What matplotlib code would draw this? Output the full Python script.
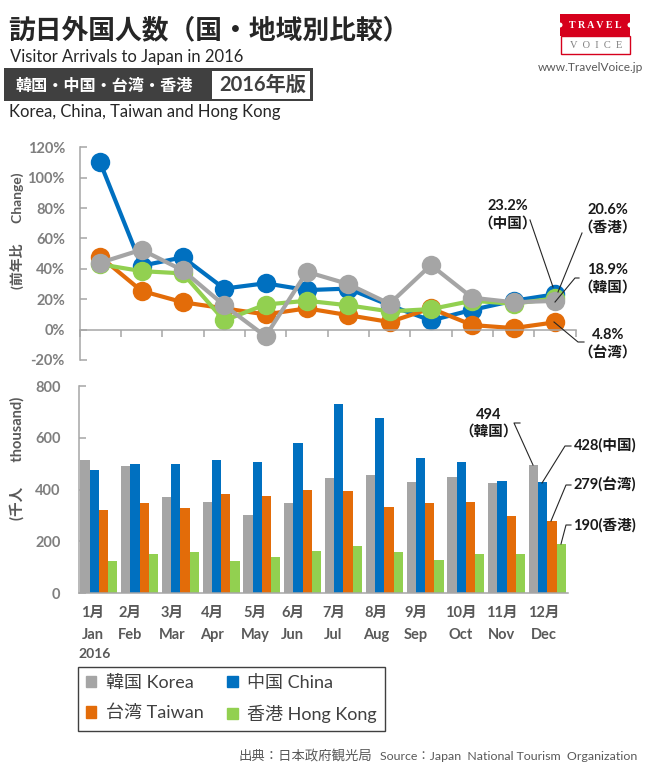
import numpy as np
import matplotlib
matplotlib.use("Agg")
import matplotlib.pyplot as plt
from matplotlib.patches import Rectangle, Patch, Circle

FONT = ['Lato', 'Noto Sans CJK JP', 'DejaVu Sans']
plt.rcParams['font.family'] = FONT

W, H = 656, 784

months_jp = ['1月','2月','3月','4月','5月','6月','7月','8月','9月','10月','11月','12月']
months_en = ['Jan','Feb','Mar','Apr','May','Jun','Jul','Aug','Sep','Oct','Nov','Dec']

# Year-on-year change (%)
change_korea  = [44, 52.6, 39, 16, -4.4, 38, 30, 17, 42.5, 21, 18, 18.9]
change_china  = [110, 42, 47.6, 27, 30.5, 26, 27, 16, 6, 13, 19, 23.2]
change_taiwan = [48, 25.5, 18, 14, 10, 14, 9.5, 5, 14, 3, 1, 4.8]
change_hk     = [43, 38.5, 37, 6, 16.5, 19, 16, 12, 13.5, 19, 17, 20.6]

# Visitors (thousand)
visitors_korea  = [514, 491, 372, 352, 302, 348, 445, 457, 430, 449, 426, 494]
visitors_china  = [476, 499, 499, 514, 507, 580, 731, 677, 522, 507, 434, 428]
visitors_taiwan = [322, 348, 329, 383, 376, 399, 395, 333, 348, 352, 298, 279]
visitors_hk     = [125, 152, 159, 125, 140, 163, 183, 159, 129, 152, 152, 190]

C_KOREA, C_CHINA, C_TAIWAN, C_HK = '#A5A5A5', '#0070C0', '#E36C09', '#92D050'
AXIS = '#A6A6A6'
TICK = '#7F7F7F'

fig = plt.figure(figsize=(W / 100, H / 100), dpi=100, facecolor='white')


def axes_px(x0, y0, x1, y1, **kw):
    return fig.add_axes([x0 / W, 1 - y1 / H, (x1 - x0) / W, (y1 - y0) / H], **kw)


# ---------- top line chart ----------
ax1 = axes_px(79.5, 147.3, 575.6, 360)
xs = np.arange(12)
for vals, col in [(change_china, C_CHINA), (change_taiwan, C_TAIWAN),
                  (change_hk, C_HK), (change_korea, C_KOREA)]:
    ax1.plot(xs, vals, color=col, lw=3, marker='o', ms=14, mew=0, clip_on=False)
ax1.set_xlim(-0.5, 11.5)
ax1.set_ylim(-20, 120)
ax1.set_yticks(np.arange(-20, 121, 20))
ax1.set_yticklabels([f'{v}%' for v in range(-20, 121, 20)])
ax1.set_xticks(np.arange(-0.5, 12, 1))
ax1.tick_params(axis='x', labelbottom=False, length=5, color=AXIS, width=1.1, direction='out')
ax1.tick_params(axis='y', length=5, color=AXIS, width=1.1, direction='in', pad=10.5,
                labelsize=10.5, labelcolor=TICK)
for lab in ax1.get_yticklabels():
    lab.set_fontweight('bold')
ax1.spines[['top', 'right']].set_visible(False)
ax1.spines['left'].set_color(AXIS)
ax1.spines['left'].set_linewidth(1.1)
ax1.spines['bottom'].set_position(('data', 0))
ax1.spines['bottom'].set_color(AXIS)
ax1.spines['bottom'].set_linewidth(1.1)
ax1.set_ylabel('(前年比　  Change)', fontsize=10, color='#595959', fontweight='bold')
ax1.yaxis.set_label_coords((24 - 79.5) / 496, 0.61)

# ---------- bottom bar chart ----------
ax2 = axes_px(78.5, 386, 567.7, 593.3)
bw = 0.227
series = [('韓国 Korea', visitors_korea, C_KOREA), ('中国 China', visitors_china, C_CHINA),
          ('台湾 Taiwan', visitors_taiwan, C_TAIWAN), ('香港 Hong Kong', visitors_hk, C_HK)]
for k, (_, vals, col) in enumerate(series):
    ax2.bar(xs + (k - 1.5) * bw, vals, width=bw, color=col, linewidth=0)
ax2.set_xlim(-0.5, 11.5)
ax2.set_ylim(0, 800)
ax2.set_yticks(np.arange(0, 801, 200))
label_shift = np.array([-6, -9.7, -8.5, -9, -7, -10, -10, -8.5, -9.3, -5, -5, -3.7]) / 40.8
ax2.set_xticks(xs + label_shift)
ax2.set_xticklabels([f'{j}\n{e}' for j, e in zip(months_jp, months_en)],
                    fontsize=10.5, fontweight='bold', color='#595959', linespacing=1.75)
ax2.tick_params(axis='x', length=0, pad=9)
ax2.tick_params(axis='y', length=5, color=AXIS, width=1.1, direction='in', pad=13,
                labelsize=10.5, labelcolor=TICK)
for lab in ax2.get_yticklabels():
    lab.set_fontweight('bold')
ax2.spines[['top', 'right']].set_visible(False)
for s in ['left', 'bottom']:
    ax2.spines[s].set_color(AXIS)
    ax2.spines[s].set_linewidth(1.1)
ax2.set_ylabel('(千人　   thousand)', fontsize=10.5, color='#595959', fontweight='bold')
ax2.yaxis.set_label_coords((25 - 78.5) / 489.2, (593.3 - 458) / 207.3)

# ---------- legend ----------
handles = [Patch(color=c, label=l) for l, _, c in series]
handles = [handles[0], handles[2], handles[1], handles[3]]
leg = fig.legend(handles=handles, ncol=2, loc='lower left',
                 bbox_to_anchor=(78 / W, 1 - 731 / H, 307 / W, 64 / H), mode='expand',
                 borderaxespad=0, fontsize=13, frameon=True, fancybox=False,
                 edgecolor='#404040', framealpha=1, handlelength=0.58, handleheight=0.58,
                 handletextpad=0.55, labelspacing=0.75, borderpad=0.44, columnspacing=0.5)
leg.get_frame().set_linewidth(1.0)
for t in leg.get_texts():
    t.set_color('#404040')

# ---------- overlay in pixel coordinates ----------
ov = fig.add_axes([0, 0, 1, 1], facecolor='none')
ov.set_xlim(0, W)
ov.set_ylim(H, 0)
ov.axis('off')


def tx(x, y, s, size, color='#262626', weight='normal', ha='left', **kw):
    ov.text(x, y, s, fontsize=size, color=color, fontweight=weight, ha=ha, va='center', **kw)


tx(8, 29, '訪日外国人数（国・地域別比較）', 19.3, weight='bold')
tx(10, 57, 'Visitor Arrivals to Japan in 2016', 12)
ov.add_patch(Rectangle((4, 68), 309, 33, fc='#404040', ec='none'))
ov.add_patch(Rectangle((212, 71), 98, 28, fc='white', ec='none'))
tx(15, 86, '韓国・中国・台湾・香港', 11.6, color='white', weight='bold')
tx(263, 85, '2016年版', 14.5, color='#404040', weight='bold', ha='center')
tx(9, 112, 'Korea, China, Taiwan and Hong Kong', 11.9)

# logo
ov.add_patch(Rectangle((560, 14), 70, 22, fc='#D6001C', ec='none'))
ov.add_patch(Circle((560, 25), 2.5, fc='white', ec='none'))
ov.add_patch(Circle((630, 25), 2.5, fc='white', ec='none'))
ov.add_patch(Rectangle((560.5, 36), 69, 18, fc='white', ec='#D6001C', lw=1))
ov.text(595, 25.5, 'T R A V E L', fontsize=7.2, color='white', family='Liberation Serif',
        fontweight='bold', ha='center', va='center')
ov.text(596, 45.5, 'V  O  I  C  E', fontsize=7.5, color='#7F7F7F', family='Liberation Serif',
        ha='center', va='center')
tx(590, 67, 'www.TravelVoice.jp', 8.6, color='#595959', ha='center')

# x-axis note and source
tx(78, 654, '2016', 10, color='#595959', weight='bold')
tx(238, 756, '出典：日本政府観光局', 9.6, color='#595959')
tx(380, 756, 'Source：Japan  National Tourism  Organization', 8.9, color='#595959')

# callouts
LBL = '#1A1A1A'
for x, y, s, ha, size in [(508, 206, '23.2%', 'center', 10.5), (508, 224, '（中国）', 'center', 10.5),
                          (608, 210, '20.6%', 'center', 10.5), (608, 228, '（香港）', 'center', 10.5),
                          (608, 270, '18.9%', 'center', 10.5), (608, 288, '（韓国）', 'center', 10.5),
                          (608, 335, '4.8%', 'center', 10.5), (608, 353, '（台湾）', 'center', 10.5),
                          (489, 415, '494', 'center', 10.5), (489, 432, '（韓国）', 'center', 10.5),
                          (574, 445, '428(中国)', 'left', 10.5), (573, 485, '279(台湾)', 'left', 10.5),
                          (573, 525, '190(香港)', 'left', 10.5)]:
    tx(x, y, s, size, color=LBL, weight='bold', ha=ha)

leaders = [[(530, 220), (553, 287)],
           [(582, 233), (558, 292)],
           [(579, 278), (575, 278), (555, 302)],
           [(584, 342), (578, 342), (554, 322)],
           [(520, 423), (514, 423), (533, 465)],
           [(571, 446), (565, 446), (542, 483)],
           [(571, 485), (566, 485), (551, 521)],
           [(571, 525), (566, 525), (561, 544)]]
for pts in leaders:
    a = np.array(pts)
    ov.plot(a[:, 0], a[:, 1], color='#262626', lw=0.8)

fig.savefig('out.png', dpi=100)
